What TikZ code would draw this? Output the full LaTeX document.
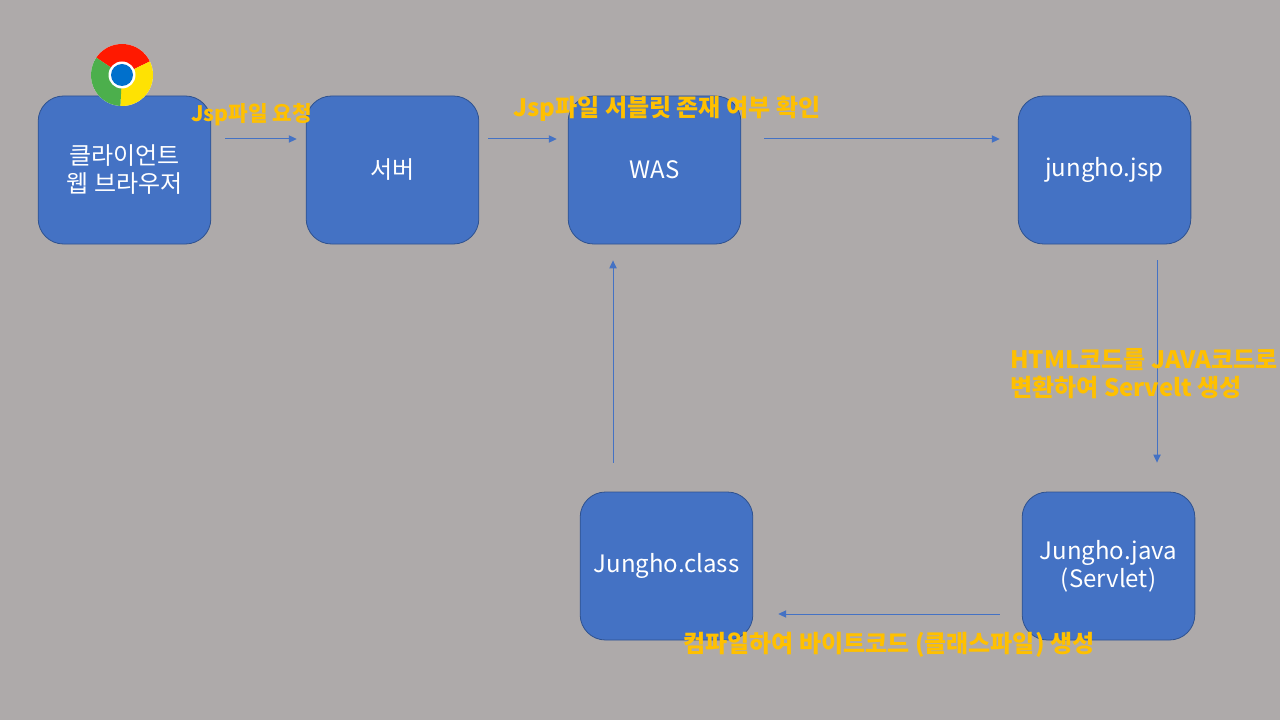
\documentclass[tikz,border=0pt]{standalone}
\usepackage{fontspec}
\setmainfont{Noto Sans CJK KR}
\usetikzlibrary{arrows.meta, positioning, calc}
\definecolor{slidebg}{HTML}{AEAAAA}
\definecolor{boxblue}{HTML}{4472C4}
\definecolor{boxline}{HTML}{2F528F}
\definecolor{labelgold}{HTML}{FFC000}

\begin{document}
\begin{tikzpicture}[
    x=0.75pt, y=-0.75pt,
    stage/.style={rectangle, rounded corners=19pt, draw=boxline, line width=0.6pt, fill=boxblue, text=white, minimum width=129.5pt, minimum height=111pt, align=center, font=\fontsize{18}{21}\selectfont},
    flow/.style={-{Triangle[length=6pt, width=5.5pt]}, draw=boxblue, line width=0.75pt},
    note/.style={anchor=west, inner sep=0pt, text=labelgold, align=left, font=\bfseries\fontsize{18}{21}\selectfont}
]

\useasboundingbox (0,0) rectangle (1280,720);
\clip (0,0) rectangle (1280,720);
\fill[slidebg] (0,0) rectangle (1280,720);

% Top row
\node[stage] (client) at (124.5,170) {클라이언트\\웹 브라우저};
\node[stage] (server) at (392.5,170) {서버};
\node[stage] (was) at (654.5,170) {WAS};
\node[stage] (jsp) at (1104.5,170) {jungho.jsp};

% Bottom row
\node[stage] (class) at (666.5,566) {Jungho.class};
\node[stage] (java) at (1108.5,566) {Jungho.java\\(Servlet)};

% Browser logo
\begin{scope}[shift={(122,75)}, y=0.75pt]
\fill[white!85!slidebg] (0,0) circle (31);
\fill[red!80!orange] (0,0) -- (146:31) arc (146:26:31) -- cycle;
\fill[yellow!85!orange] (0,0) -- (26:31) arc (26:-93:31) -- cycle;
\fill[green!55!black!70!white] (0,0) -- (-93:31) arc (-93:-214:31) -- cycle;
\fill[white] (0,0) circle (13.5);
\fill[blue!45!cyan!80!black] (0,0) circle (11);
\end{scope}

% Requests along the top
\draw[flow, shorten <=10.5pt, shorten >=6.75pt] ($(client.east)+(0,-31)$) -- ($(server.west)+(0,-31)$);
\draw[flow, shorten <=6.75pt, shorten >=8.25pt] ($(server.east)+(0,-31)$) -- ($(was.west)+(0,-31)$);
\draw[flow, shorten <=17.25pt, shorten >=13.5pt] ($(was.east)+(0,-31)$) -- ($(jsp.west)+(0,-31)$);

% Conversion steps
\draw[flow, shorten <=12pt, shorten >=21.75pt] ($(jsp.south)+(52.5,0)$) -- ($(java.north)+(48.5,0)$);
\draw[flow, shorten <=16.5pt, shorten >=18.75pt] ($(java.west)+(0,48)$) -- ($(class.east)+(0,48)$);
\draw[flow, shorten <=21.75pt, shorten >=12pt] ($(class.north)+(-53.5,0)$) -- ($(was.south)+(-41.5,0)$);

% Labels
\node[note, font=\bfseries\fontsize{16}{19}\selectfont] (reqnote) at (191,115) {Jsp파일 요청};
\node[note] (checknote) at (513,109) {Jsp파일 서블릿 존재 여부 확인};
\node[note] (convnote) at (1010,374) {HTML코드를 JAVA코드로\\변환하여 Servelt 생성};
\node[note] (compnote) at (683,645) {컴파일하여 바이트코드 (클래스파일) 생성};

\end{tikzpicture}
\end{document}
